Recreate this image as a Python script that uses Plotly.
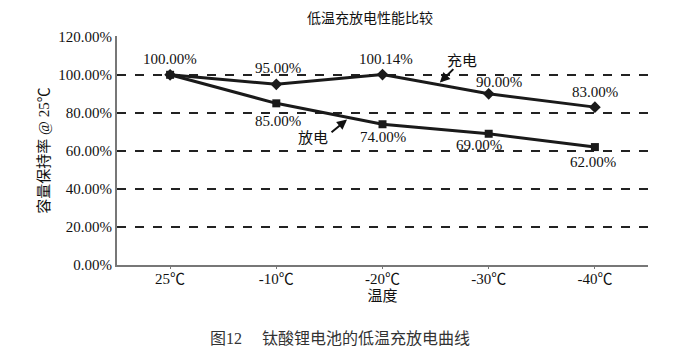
import plotly.graph_objects as go

categories = ["25℃", "-10℃", "-20℃", "-30℃", "-40℃"]
charge = [100.00, 95.00, 100.14, 90.00, 83.00]
discharge = [100.00, 85.00, 74.00, 69.00, 62.00]
y_ticks = [0, 20, 40, 60, 80, 100, 120]

# label offsets (pixels) for the data labels
charge_label_shift = [(0, 16), (2, 16), (3, 16), (10, 12), (0, 15)]
discharge_label_shift = [None, (2, -18), (0, -13), (-10, -11), (-2, -15)]

SERIF = "Liberation Serif, Noto Sans CJK SC, serif"
INK = "#111"

fig = go.Figure()
fig.add_trace(go.Scatter(
    x=categories, y=charge, mode="lines+markers", name="充电",
    line=dict(color="#1a1a1a", width=3),
    marker=dict(symbol="diamond", size=9, color="#1a1a1a"),
    cliponaxis=False,
))
fig.add_trace(go.Scatter(
    x=categories, y=discharge, mode="lines+markers", name="放电",
    line=dict(color="#1a1a1a", width=3),
    marker=dict(symbol="square", size=8, color="#1a1a1a"),
    cliponaxis=False,
))

for cat, v, sh in zip(categories, charge, charge_label_shift):
    fig.add_annotation(x=cat, y=v, text=f"{v:.2f}%", showarrow=False,
                       xshift=sh[0], yshift=sh[1],
                       font=dict(family=SERIF, size=15, color=INK))
for cat, v, sh in zip(categories, discharge, discharge_label_shift):
    if sh is None:
        continue
    fig.add_annotation(x=cat, y=v, text=f"{v:.2f}%", showarrow=False,
                       xshift=sh[0], yshift=sh[1],
                       font=dict(family=SERIF, size=15, color=INK))

fig.add_annotation(x=2.54, y=95.9, ax=15, ay=-15, text="", showarrow=True,
                   arrowhead=2, arrowsize=1, arrowwidth=2, arrowcolor=INK, xref="x", yref="y")
fig.add_annotation(x=2.75, y=107.4, text="充电", showarrow=False,
                   font=dict(family=SERIF, size=15, color=INK), xref="x", yref="y")
fig.add_annotation(x=1.666, y=76.5, ax=-17, ay=14, text="", showarrow=True,
                   arrowhead=2, arrowsize=1, arrowwidth=2, arrowcolor=INK, xref="x", yref="y")
fig.add_annotation(x=1.346, y=66.6, text="放电", showarrow=False,
                   font=dict(family=SERIF, size=15, color=INK), xref="x", yref="y")

fig.add_annotation(x=0.42, y=-0.319, xref="paper", yref="paper", yanchor="middle",
                   text="图12　 钛酸锂电池的低温充放电曲线", showarrow=False,
                   font=dict(family=SERIF, size=16, color="#333"))

fig.update_layout(
    width=676, height=358,
    margin=dict(l=109, r=36, t=28, b=101, autoexpand=False),
    paper_bgcolor="white", plot_bgcolor="white",
    showlegend=False,
    title=dict(text="低温充放电性能比较", x=362 / 676, xanchor="center", y=1 - 10 / 358,
               yref="container", yanchor="middle", font=dict(family=SERIF, size=14, color=INK)),
    font=dict(family=SERIF, color=INK),
)
fig.update_xaxes(
    type="category", range=[-0.5, 4.5], automargin=False,
    showline=True, linecolor="#777", linewidth=2,
    ticks="outside", ticklen=2, tickcolor="#777",
    ticklabelstandoff=-3,
    showgrid=False,
    tickfont=dict(family=SERIF, size=15, color=INK),
    title=dict(text="温度", font=dict(family=SERIF, size=15, color=INK), standoff=4),
)
fig.update_yaxes(
    range=[0, 120.4], tickvals=y_ticks, automargin=False,
    ticktext=[f"{v:.2f}%" for v in y_ticks],
    showline=True, linecolor="#777", linewidth=2,
    showgrid=True, gridcolor="#222", gridwidth=1.5, griddash="dash",
    zeroline=False,
    tickfont=dict(family=SERIF, size=15, color=INK),
    title=dict(text="容量保持率 @ 25℃", font=dict(family=SERIF, size=15, color=INK), standoff=5),
)

fig.write_html("out.html")
